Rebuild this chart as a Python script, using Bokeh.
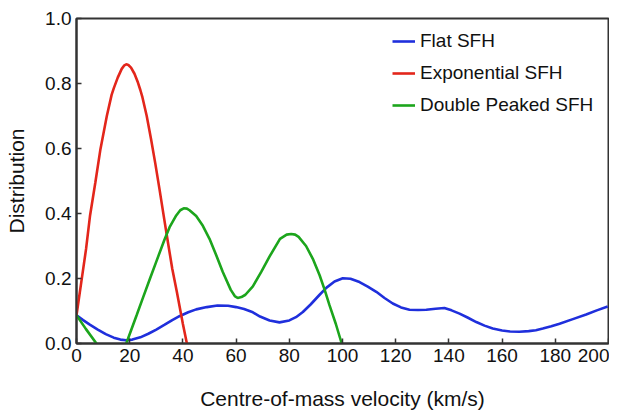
from bokeh.plotting import figure
from bokeh.models import Range1d, Legend, LegendItem, FixedTicker
from bokeh.embed import file_html
from bokeh.resources import INLINE

# ---- data ----
flat_v = [0, 2.5, 5, 8, 11, 14, 16.5, 18.7, 21, 24, 27, 30, 33, 36, 38.7, 42, 45, 49, 53, 57,
          60, 63, 66.3, 69, 72.6, 76.3, 80, 82.5, 85.1, 88, 91.4, 94, 97, 100.1, 103, 106.4,
          109.5, 112.7, 115.8, 118.9, 122, 125.2, 128.4, 131.5, 135, 138.3, 141, 144, 147, 150.3,
          153.4, 156.5, 160, 163, 166.5, 170, 172.7, 175.3, 178.5, 181.6, 186.6, 191.6, 195.6,
          199.7]
flat_d = [0.087, 0.072, 0.058, 0.043, 0.029, 0.018, 0.012, 0.010, 0.012, 0.019, 0.030, 0.043,
          0.057, 0.072, 0.084, 0.096, 0.105, 0.112, 0.117, 0.116, 0.112, 0.106, 0.096, 0.083,
          0.071, 0.065, 0.071, 0.081, 0.097, 0.120, 0.150, 0.172, 0.191, 0.201, 0.199, 0.189,
          0.175, 0.159, 0.140, 0.123, 0.111, 0.104, 0.103, 0.104, 0.107, 0.109, 0.102, 0.092,
          0.080, 0.066, 0.055, 0.046, 0.040, 0.037, 0.036, 0.038, 0.041, 0.046, 0.053, 0.061,
          0.075, 0.089, 0.102, 0.114]

exp_v = [0, 1.8, 3.6, 5.1, 7.1, 9.0, 11.4, 13.2, 14.0, 15.5, 17.0, 18.0, 18.7, 19.5, 20.5,
         21.8, 23.1, 24.0, 24.8, 26.4, 28.0, 29.6, 31.2, 32.8, 34.4, 36.0, 37.7, 40.0, 41.5]
exp_d = [0.087, 0.189, 0.291, 0.394, 0.496, 0.598, 0.700, 0.765, 0.785, 0.818, 0.845, 0.856,
         0.859, 0.857, 0.849, 0.830, 0.803, 0.780, 0.757, 0.700, 0.630, 0.555, 0.475, 0.392,
         0.310, 0.230, 0.160, 0.060, 0.0]

dbl_v = [0, 3.5, 7.5, None, 18.7, 22.6, 24.9, 27.5, 30.0, 33.1, 35.0, 37.5, 39.0, 40.3, 41.5,
         42.5, 45.0, 47.5, 50.0, 52.5, 55.0, 58.0, 59.5, 60.6, 62.0, 63.5, 66.3, 69.5, 72.6, 76.5,
         79.0, 80.7, 82.2, 83.5, 86.3, 89.0, 91.4, 93.3, 95.1, 97.5, 99.7]
dbl_d = [0.087, 0.045, 0.0, None, 0.0, 0.087, 0.139, 0.197, 0.252, 0.320, 0.358, 0.394, 0.410,
         0.416, 0.415, 0.410, 0.392, 0.362, 0.322, 0.272, 0.220, 0.165, 0.146, 0.140, 0.143,
         0.150, 0.176, 0.221, 0.268, 0.322, 0.335, 0.337, 0.335, 0.328, 0.300, 0.258, 0.210,
         0.165, 0.118, 0.060, 0.0]

series_names = ["Flat SFH", "Exponential SFH", "Double Peaked SFH"]
x_ticks = [0, 20, 40, 60, 80, 100, 120, 140, 160, 180, 200]
y_ticks = [0.0, 0.2, 0.4, 0.6, 0.8, 1.0]
y_tick_labels = ["0.0", "0.2", "0.4", "0.6", "0.8", "1.0"]

BLUE = "#1f2fdc"
RED = "#e3261b"
GREEN = "#1ca51c"
FONT = "Liberation Sans"

p = figure(width=609, height=412, output_backend="svg", toolbar_location=None,
           x_range=Range1d(0, 200), y_range=Range1d(0, 1),
           min_border_left=76, min_border_right=1, min_border_top=18, min_border_bottom=68)
p.xgrid.visible = False
p.ygrid.visible = False
p.outline_line_color = "#333333"
p.outline_line_width = 2
p.background_fill_color = "white"
p.border_fill_color = "white"

nan = float("nan")
dv = [nan if v is None else v for v in dbl_v]
dd = [nan if v is None else v for v in dbl_d]

rb = p.line(flat_v, flat_d, line_color=BLUE, line_width=2.6)
rr = p.line(exp_v, exp_d, line_color=RED, line_width=2.6)
rg = p.line(dv, dd, line_color=GREEN, line_width=2.6)

legend = Legend(items=[LegendItem(label=series_names[0], renderers=[rb]),
                       LegendItem(label=series_names[1], renderers=[rr]),
                       LegendItem(label=series_names[2], renderers=[rg])],
                location=(316, 227), border_line_color=None, background_fill_alpha=0,
                padding=0, margin=0, spacing=10, glyph_width=23, glyph_height=20,
                label_height=20, label_standoff=5, label_text_font=FONT,
                label_text_font_size="19px", label_text_color="#111111")
p.add_layout(legend)

for ax in (p.xaxis[0], p.yaxis[0]):
    ax.axis_line_color = "#333333"
    ax.axis_line_width = 2
    ax.major_tick_line_color = "#333333"
    ax.major_tick_line_width = 1.5
    ax.major_tick_in = 5
    ax.major_tick_out = 0
    ax.minor_tick_line_color = None
    ax.major_label_text_font = FONT
    ax.major_label_text_font_size = "19px"
    ax.major_label_text_color = "#111111"
    ax.major_label_standoff = 5
    ax.axis_label_text_font = FONT
    ax.axis_label_text_font_size = "21px"
    ax.axis_label_text_font_style = "normal"
    ax.axis_label_text_color = "#111111"

p.xaxis[0].ticker = FixedTicker(ticks=x_ticks)
p.yaxis[0].ticker = FixedTicker(ticks=y_ticks)
p.yaxis[0].major_label_overrides = {t: l for t, l in zip(y_ticks, y_tick_labels)}
p.xaxis[0].axis_label = "Centre-of-mass velocity (km/s)"
p.yaxis[0].axis_label = "Distribution"
p.xaxis[0].axis_label_standoff = 22
p.yaxis[0].axis_label_standoff = 14

open("out.html", "w").write(file_html(p, INLINE))
